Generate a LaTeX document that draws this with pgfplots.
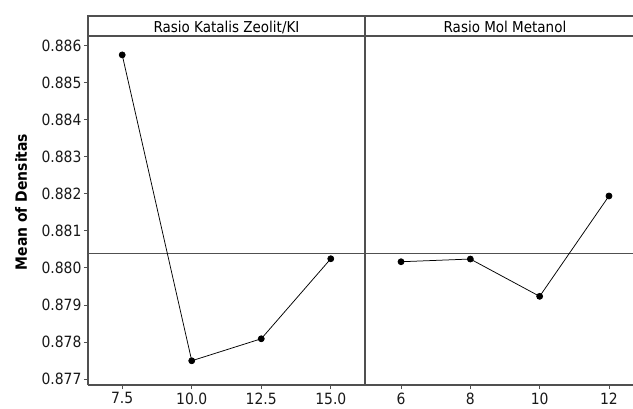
\documentclass[border=0pt]{standalone}
\usepackage{pgfplots}
\pgfplotsset{compat=1.18}
\usepackage{fontspec}
\IfFontExistsTF{DejaVu Sans Condensed}{\setmainfont{DejaVu Sans Condensed}}{\setmainfont{DejaVu Sans}}
\definecolor{framec}{HTML}{505050}
\begin{document}
\begin{tikzpicture}
\useasboundingbox (0,0) rectangle (633pt,408pt);
\pgfplotsset{every axis/.append style={
  scale only axis, height=349pt, anchor=south west,
  ymin=0.87684, ymax=0.88626,
  axis line style={framec, line width=1.1pt},
  tick style={framec, line width=0.9pt},
  tick align=outside, major tick length=4pt,
  ticklabel style={font=\fontsize{15.5}{17}\selectfont, text=black!90},
  /pgf/number format/assume math mode=true,
  scaled y ticks=false,
  clip=false,
  xtick pos=bottom, ytick pos=left,
}}
% left panel
\begin{axis}[name=L, at={(88pt,23pt)}, width=277pt,
  xmin=6.27, xmax=16.23,
  xtick={7.5,10,12.5,15}, xticklabels={7.5,10.0,12.5,15.0},
  ytick={0.877,0.878,0.879,0.880,0.881,0.882,0.883,0.884,0.885,0.886},
  yticklabels={0.877,0.878,0.879,0.880,0.881,0.882,0.883,0.884,0.885,0.886},
  yticklabel style={xshift=1pt},
  separate axis lines, y axis line style={}, 
]
\addplot[framec, line width=1.1pt, forget plot] coordinates {(6.27,0.880394) (16.23,0.880394)};
\addplot[black, line width=0.75pt, mark=*, mark size=3pt] coordinates {
  (7.5,0.88575) (10.0,0.877494) (12.5,0.878088) (15.0,0.880248)};
\end{axis}
% right panel
\begin{axis}[name=R, at={(365pt,23pt)}, width=280pt,
  xmin=4.96, xmax=13.04,
  xtick={6,8,10,12},
  ytick=\empty,
]
\addplot[framec, line width=1.1pt, forget plot] coordinates {(4.96,0.880394) (13.04,0.880394)};
\addplot[black, line width=0.75pt, mark=*, mark size=3pt] coordinates {
  (6,0.880167) (8,0.88024) (10,0.879233) (12,0.881942)};
\end{axis}
\draw[framec, line width=1.1pt] (88pt,372pt) -- (88pt,392pt) -- (645pt,392pt) -- (645pt,372pt);
\draw[framec, line width=1.1pt] (365pt,372pt) -- (365pt,392pt);
\node[font=\fontsize{15}{17}\selectfont] at (226.5pt,381pt) {Rasio Katalis Zeolit/KI};
\node[font=\fontsize{15}{17}\selectfont] at (505pt,381pt) {Rasio Mol Metanol};
\node[rotate=90, font=\bfseries\fontsize{15.5}{17}\selectfont] at (21pt,206pt) {Mean of Densitas};
\end{tikzpicture}
\end{document}
